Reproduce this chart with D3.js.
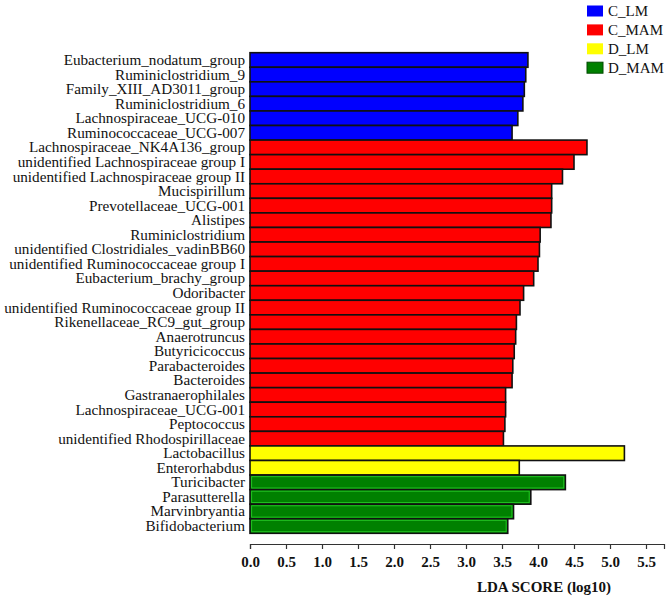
<!DOCTYPE html>
<html>
<head>
<meta charset="utf-8">
<script src="https://cdn.jsdelivr.net/npm/d3@7"></script>
<style>
  body { margin: 0; background: #fff; }
  text { font-family: "Liberation Serif", "Times New Roman", serif; }
</style>
</head>
<body>
<div id="chart"></div>
<script>
// taxa, top to bottom
const taxa = [
    "Eubacterium_nodatum_group",
    "Ruminiclostridium_9",
    "Family_XIII_AD3011_group",
    "Ruminiclostridium_6",
    "Lachnospiraceae_UCG-010",
    "Ruminococcaceae_UCG-007",
    "Lachnospiraceae_NK4A136_group",
    "unidentified Lachnospiraceae group I",
    "unidentified Lachnospiraceae group II",
    "Mucispirillum",
    "Prevotellaceae_UCG-001",
    "Alistipes",
    "Ruminiclostridium",
    "unidentified Clostridiales_vadinBB60",
    "unidentified Ruminococcaceae group I",
    "Eubacterium_brachy_group",
    "Odoribacter",
    "unidentified Ruminococcaceae group II",
    "Rikenellaceae_RC9_gut_group",
    "Anaerotruncus",
    "Butyricicoccus",
    "Parabacteroides",
    "Bacteroides",
    "Gastranaerophilales",
    "Lachnospiraceae_UCG-001",
    "Peptococcus",
    "unidentified Rhodospirillaceae",
    "Lactobacillus",
    "Enterorhabdus",
    "Turicibacter",
    "Parasutterella",
    "Marvinbryantia",
    "Bifidobacterium"
];

const lda = [
    3.86, 3.83, 3.81, 3.79, 3.72, 3.64,
    4.68, 4.50, 4.34, 4.19, 4.19, 4.18, 4.03, 4.02, 4.00, 3.94,
    3.80, 3.75, 3.70, 3.69, 3.67, 3.65, 3.64, 3.55, 3.55, 3.54, 3.52,
    5.20, 3.74,
    4.38, 3.90, 3.66, 3.58
];

const groupOf = [
    "C_LM", "C_LM", "C_LM", "C_LM", "C_LM", "C_LM",
    "C_MAM", "C_MAM", "C_MAM", "C_MAM", "C_MAM", "C_MAM", "C_MAM", "C_MAM", "C_MAM", "C_MAM",
    "C_MAM", "C_MAM", "C_MAM", "C_MAM", "C_MAM", "C_MAM", "C_MAM", "C_MAM", "C_MAM", "C_MAM", "C_MAM",
    "D_LM", "D_LM",
    "D_MAM", "D_MAM", "D_MAM", "D_MAM"
];

const groups = ["C_LM", "C_MAM", "D_LM", "D_MAM"];
const groupColors = ["#0000FF", "#FF0000", "#FFFF00", "#008000"];
const ticks = [0, 0.5, 1, 1.5, 2, 2.5, 3, 3.5, 4, 4.5, 5, 5.5];

const data = taxa.map((t, i) => ({ taxon: t, value: lda[i], group: groupOf[i] }));

const W = 669, H = 613;

const svg = d3.select("#chart")
    .append("svg")
    .attr("width", W)
    .attr("height", H);

const x = d3.scaleLinear()
    .domain([0, 5.75])
    .range([250, 664]);

const y = d3.scaleBand()
    .domain(taxa)
    .range([52.7, 533.3])
    .padding(0);

const color = d3.scaleOrdinal()
    .domain(groups)
    .range(groupColors);

// bars
svg.selectAll("rect.bar")
    .data(data)
    .enter()
    .append("rect")
    .attr("class", "bar")
    .attr("x", x(0))
    .attr("y", d => y(d.taxon))
    .attr("width", d => x(d.value) - x(0))
    .attr("height", y.bandwidth())
    .attr("fill", d => color(d.group))
    .attr("stroke", "#111")
    .attr("stroke-width", 1.6);

// lighter inner edge on the green bars
svg.selectAll("rect.inner")
    .data(data.filter(d => d.group === "D_MAM"))
    .enter()
    .append("rect")
    .attr("class", "inner")
    .attr("x", x(0) + 1.6)
    .attr("y", d => y(d.taxon) + 1.6)
    .attr("width", d => x(d.value) - x(0) - 3.2)
    .attr("height", y.bandwidth() - 3.2)
    .attr("fill", "none")
    .attr("stroke", "#22c322")
    .attr("stroke-width", 1);

// taxon labels
svg.selectAll("text.label")
    .data(data)
    .enter()
    .append("text")
    .attr("class", "label")
    .attr("x", 245)
    .attr("y", d => y(d.taxon) + y.bandwidth() / 2)
    .attr("dy", "0.33em")
    .attr("text-anchor", "end")
    .attr("font-size", "15.2px")
    .attr("fill", "#111")
    .text(d => d.taxon);

// x axis
const xAxis = d3.axisBottom(x)
    .tickValues(ticks)
    .tickFormat(d3.format(".1f"))
    .tickSizeInner(5)
    .tickSizeOuter(5);

const gx = svg.append("g")
    .attr("transform", "translate(0,544)")
    .call(xAxis);

gx.select(".domain").attr("stroke", "#333").attr("stroke-width", 1.2);
gx.selectAll(".tick line").attr("stroke", "#333").attr("stroke-width", 1.2);
gx.selectAll(".tick text")
    .attr("font-family", "Liberation Serif, serif")
    .attr("font-weight", "bold")
    .attr("font-size", "15px")
    .attr("fill", "#111")
    .attr("y", 12);

svg.append("text")
    .attr("x", 544)
    .attr("y", 592)
    .attr("text-anchor", "middle")
    .attr("font-weight", "bold")
    .attr("font-size", "15px")
    .attr("fill", "#111")
    .text("LDA SCORE (log10)");

// legend
const legend = svg.selectAll("g.legend")
    .data(groups)
    .enter()
    .append("g")
    .attr("class", "legend")
    .attr("transform", (d, i) => `translate(587, ${5.5 + i * 18.9})`);

legend.append("rect")
    .attr("width", 16)
    .attr("height", 11)
    .attr("fill", d => color(d))
    .attr("stroke", d => d === "D_MAM" ? "#004a00" : "none");

legend.append("text")
    .attr("x", 21)
    .attr("y", 5.5)
    .attr("dy", "0.35em")
    .attr("font-size", "15px")
    .attr("fill", "#111")
    .text(d => d);
</script>
</body>
</html>
